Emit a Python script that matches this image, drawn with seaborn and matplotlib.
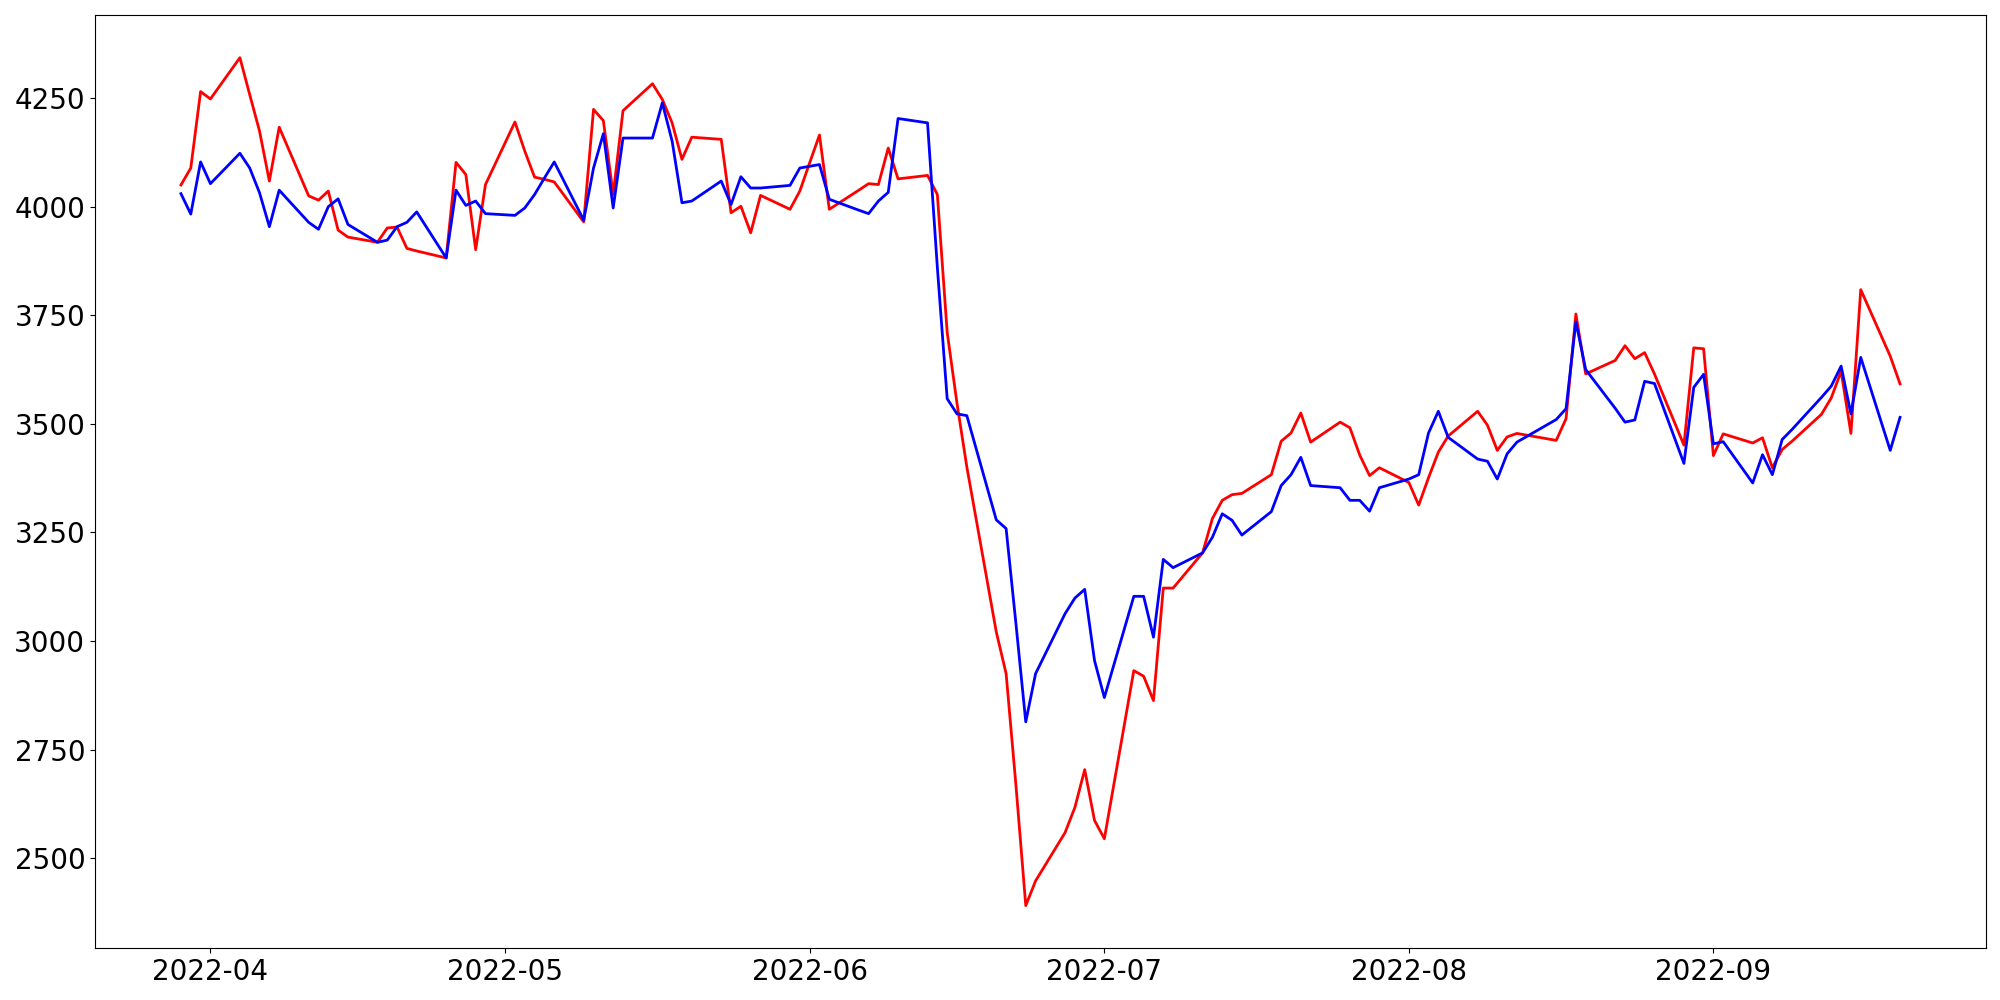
import matplotlib
matplotlib.use("Agg")
import matplotlib.pyplot as plt
import matplotlib.ticker as mticker
import numpy as np
import pandas as pd
import seaborn as sns

# Trading days (Mon-Fri) shown on the x axis
dates = pd.bdate_range("2022-03-29", "2022-09-20")

# Red series
red_values = [
    4050, 4089, 4265,                                  # Mar 29-31
    4248, 4343, 4258, 4174, 4059, 4183, 4025, 4015, 4036, 3946, 3930,
    3918, 3951, 3953, 3904, 3898, 3882, 4102, 4074, 3901, 4051,   # Apr
    4195, 4128, 4068, 4063, 4057, 3965, 4224, 4198, 4028, 4221,
    4283, 4247, 4193, 4109, 4160, 4155, 3986, 4001, 3940, 4026,
    3994, 4036,                                        # May
    4101, 4165, 3994, 4038, 4053, 4051, 4135, 4064, 4072, 4028,
    3711, 3547, 3401, 3021, 2925, 2668, 2391, 2448, 2559, 2617,
    2704, 2587,                                        # Jun
    2545, 2932, 2919, 2863, 3122, 3122, 3203, 3282, 3324, 3337,
    3340, 3383, 3460, 3479, 3525, 3458, 3504, 3491, 3428, 3381,
    3399,                                              # Jul
    3365, 3313, 3376, 3435, 3472, 3529, 3497, 3439, 3470, 3478,
    3466, 3462, 3512, 3753, 3615, 3646, 3680, 3650, 3664, 3615,
    3451, 3675, 3673,                                  # Aug
    3427, 3477, 3456, 3468, 3399, 3441, 3460, 3522, 3560, 3621,
    3478, 3809, 3656, 3592,                            # Sep
]

# Blue series
blue_values = [
    4030, 3983, 4103,                                  # Mar 29-31
    4053, 4123, 4089, 4032, 3954, 4038, 3964, 3948, 4000, 4018, 3959,
    3918, 3923, 3954, 3964, 3988, 3882, 4038, 4003, 4013, 3984,   # Apr
    3980, 3997, 4028, 4066, 4103, 3969, 4089, 4168, 3997, 4158,
    4158, 4239, 4151, 4009, 4013, 4059, 4005, 4069, 4043, 4043,
    4049, 4089,                                        # May
    4093, 4097, 4017, 3992, 3984, 4013, 4033, 4203, 4193, 3860,
    3558, 3523, 3519, 3279, 3259, 3040, 2814, 2925, 3063, 3099,
    3119, 2955,                                        # Jun
    2870, 3103, 3103, 3009, 3188, 3169, 3203, 3239, 3293, 3278,
    3244, 3298, 3358, 3383, 3423, 3358, 3353, 3324, 3324, 3299,
    3353,                                              # Jul
    3373, 3383, 3479, 3529, 3469, 3419, 3414, 3373, 3431, 3458,
    3497, 3510, 3535, 3735, 3625, 3536, 3504, 3509, 3598, 3593,
    3409, 3584, 3614,                                  # Aug
    3454, 3459, 3364, 3429, 3383, 3464, 3487, 3561, 3587, 3633,
    3523, 3653, 3439, 3515,                            # Sep
]

fig = plt.figure(figsize=(20, 10), dpi=100)
ax = fig.add_axes([0.0475, 0.052, 0.9455, 0.9327])

sns.lineplot(x=dates, y=red_values, color="red", linewidth=2, ax=ax)
sns.lineplot(x=dates, y=blue_values, color="blue", linewidth=2, ax=ax)

ax.set_xlabel("")
ax.set_ylabel("")
ax.yaxis.set_major_locator(mticker.MultipleLocator(250))
ax.tick_params(axis="both", labelsize=20)

fig.savefig("out.png", dpi=100)
